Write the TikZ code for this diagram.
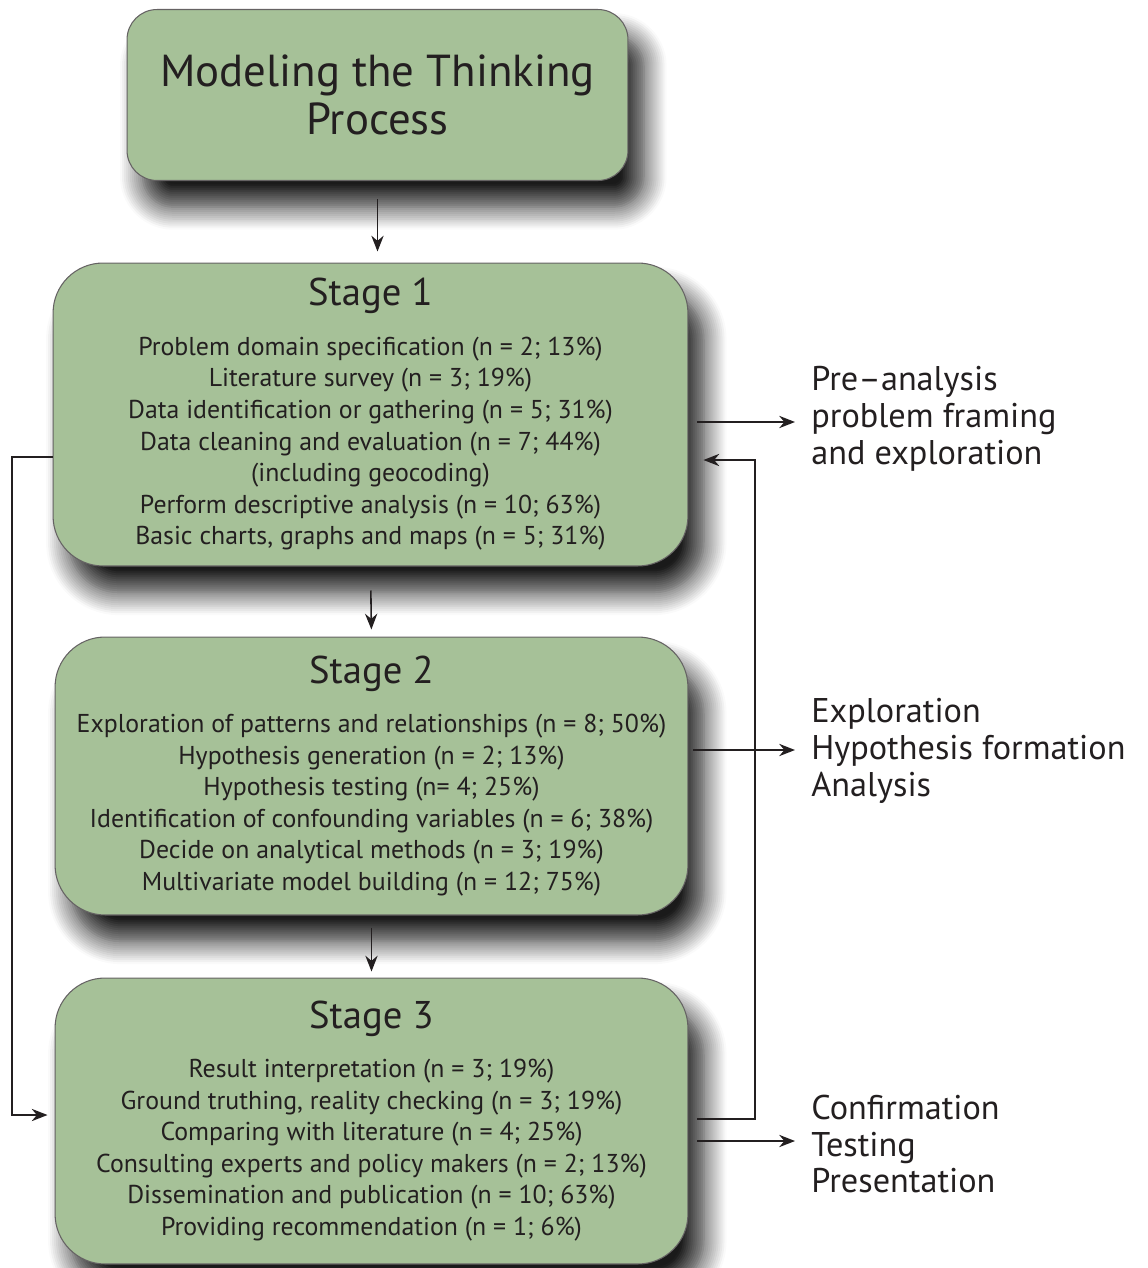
\documentclass[tikz,border=0pt]{standalone}
\usepackage{fontspec}
\setmainfont{PT Sans}
\usetikzlibrary{arrows.meta,shadows.blur}
\definecolor{boxgreen}{HTML}{A6C198}
\definecolor{ink}{HTML}{231F20}
\tikzset{
  box/.style={draw=ink!70, line width=0.6pt, fill=boxgreen, rounded corners=1cm,
    align=center, text=ink, font=\fontsize{14.7}{18}\selectfont,
    blur shadow={shadow xshift=9pt, shadow yshift=-15pt, shadow blur radius=13pt,
      shadow blur steps=12, shadow opacity=90}},
  arr/.style={-{Stealth[length=9pt,width=7pt]}, line width=0.9pt, draw=ink},
  side/.style={align=left, anchor=west, inner sep=0pt, text=ink, font=\fontsize{19.5}{21}\selectfont},
}
\newcommand{\stagehead}[1]{{\fontsize{22}{24}\selectfont #1}\\[10pt]}

\begin{document}
\begin{tikzpicture}[x=0.02cm, y=-0.02cm]
            \useasboundingbox (0,0) rectangle (1148,1268);

            \node[box, rounded corners=0.6cm, minimum width=10.02cm, minimum height=3.42cm,
              font=\fontsize{25.5}{27}\selectfont] (model) at (377.5,95) {Modeling the Thinking\\Process};
            \node[box, minimum width=12.7cm, minimum height=6.06cm] (s1) at (370.5,414.5) {\stagehead{Stage 1}%
              Problem domain specification (n = 2; 13\%)\\
              Literature survey (n = 3; 19\%)\\
              Data identification or gathering (n = 5; 31\%)\\
              Data cleaning and evaluation (n = 7; 44\%)\\
              (including geocoding)\\
              Perform descriptive analysis (n = 10; 63\%)\\
              Basic charts, graphs and maps (n = 5; 31\%)};
            \node[box, minimum width=12.66cm, minimum height=5.56cm] (s2) at (371.5,776) {\stagehead{Stage 2}%
              Exploration of patterns and relationships (n = 8; 50\%)\\
              Hypothesis generation (n = 2; 13\%)\\
              Hypothesis testing (n= 4; 25\%)\\
              Identification of confounding variables (n = 6; 38\%)\\
              Decide on analytical methods (n = 3; 19\%)\\
              Multivariate model building (n = 12; 75\%)};
            \node[box, minimum width=12.66cm, minimum height=5.72cm] (s3) at (371.5,1121) {\stagehead{Stage 3}%
              Result interpretation (n = 3; 19\%)\\
              Ground truthing, reality checking (n = 3; 19\%)\\
              Comparing with literature (n = 4; 25\%)\\
              Consulting experts and policy makers (n = 2; 13\%)\\
              Dissemination and publication (n = 10; 63\%)\\
              Providing recommendation (n = 1; 6\%)};

            \node[side] (pre) at (811,419) {Pre--analysis\\problem framing\\and exploration};
            \node[side] (expl) at (811,751) {Exploration\\Hypothesis formation\\Analysis};
            \node[side] (conf) at (811,1144) {Confirmation\\Testing\\Presentation};

            \coordinate (p1) at (795,422); \coordinate (p2) at (795,750); \coordinate (p3) at (795,1141);
            \coordinate (lb) at (12,457); \coordinate (lb2) at (12,1115);
            \coordinate (r1) at (755,1119); \coordinate (r2) at (755,460);

            \draw[arr, shorten <=0.36cm, shorten >=0.22cm] (model.south) -- (model.south |- s1.north);
            \draw[arr, shorten <=0.48cm, shorten >=0.14cm] (s1.south) -- (s2.north);
            \draw[arr, shorten <=0.24cm, shorten >=0.12cm] (s2.south) -- (s3.north);
            \draw[arr, shorten <=0.18cm] (s1.east |- p1) -- (p1);
            \draw[arr, shorten <=0.1cm] (s2.east |- p2) -- (p2);
            \draw[arr, shorten <=0.18cm] (s3.east |- p3) -- (p3);
            \draw[arr, shorten >=0.14cm] (s1.west |- lb) -- (lb) -- (lb2) -- (s3.west |- lb2);
            \draw[arr, shorten <=0.18cm, shorten >=0.3cm] (s3.east |- r1) -- (r1) -- (r2) -- (s1.east |- r2);
        \end{tikzpicture}
\end{document}
